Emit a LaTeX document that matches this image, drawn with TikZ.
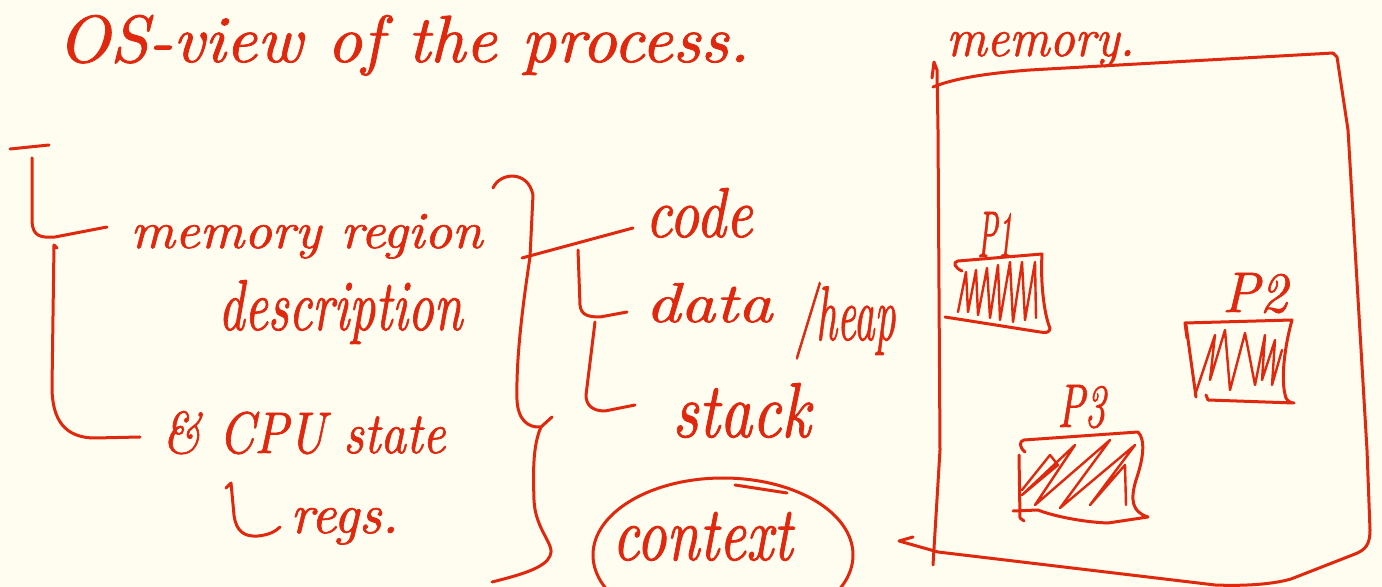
\documentclass[tikz,border=0pt]{standalone}
\usepackage{graphicx}
\usepackage{fontspec}
\newfontfamily\hand{lmroman10-italic.otf}[FakeBold=1.2]
\usetikzlibrary{shapes.geometric}
\definecolor{ink}{HTML}{E0280E}
\definecolor{paper}{HTML}{FFFDF0}
\newcommand{\hw}[3]{\resizebox{#1}{#2}{\hand #3}}
\tikzset{
  pen/.style={draw=ink, line width=1.5pt, line cap=round, line join=round},
  hatch/.style={draw=ink, line width=1.2pt, line cap=round, line join=round},
  lbl/.style={inner sep=0pt, anchor=base west, text=ink},
}
\begin{document}
\begin{tikzpicture}[x=0.5pt,y=-0.5pt]
\useasboundingbox (0,0) rectangle (1382,587);
\fill[paper] (0,0) rectangle (1382,587);
\clip (0,0) rectangle (1382,587);

% texts
\node[lbl] (title) at (57,62) {\hw{346pt}{23.5pt}{OS-view of the process.}};
\node[lbl] (memlbl) at (946,56) {\hw{94pt}{12pt}{memory.}};
\node[lbl] (memreg) at (130,248) {\hw{176pt}{17pt}{memory region}};
\node[lbl] (desc) at (218,330) {\hw{122pt}{25pt}{description}};
\node[lbl] (cpu) at (162,453) {\hw{141.5pt}{21pt}{\& CPU state}};
\node[lbl] (regs) at (290,533) {\hw{54pt}{12.5pt}{regs.}};
\node[lbl] (code) at (645,237) {\hw{53.5pt}{24.5pt}{code}};
\node[lbl] (data) at (645,322) {\hw{63.5pt}{19.5pt}{data}};
\node[lbl] (heap) at (795,340) {\hw{50pt}{29pt}{/heap}};
\node[lbl] (stack) at (672,437) {\hw{69pt}{27pt}{stack}};
\node[lbl] (context) at (612,560) {\hw{90pt}{24pt}{context}};
\node[lbl] (p1) at (977,257) {\hw{17.5pt}{22.5pt}{P1}};
\node[lbl] (p2) at (1222,312) {\hw{32.5pt}{19.5pt}{P2}};
\node[lbl] (p3) at (1057,427) {\hw{24pt}{21pt}{P3}};

% ring round "context"
\node[pen, ellipse, minimum width=130pt, minimum height=77pt, inner sep=0pt] (ring) at (723,555) {};
\draw[pen] (735,485) -- (787,493);

% left tree
\coordinate (root) at (10,149);
\coordinate (b1) at (107,227);
\coordinate (b2) at (140,437);
\draw[pen] (root) -- (49,145);
\draw[pen] (32,158) -- (32,222) .. controls (33,236) and (40,238) .. (55,237) -- (b1);
\draw[pen] (57,248) -- (54,245) -- (52,387) .. controls (52,420) and (65,438) .. (95,438) -- (b2);
\draw[pen] (226,488) -- (231,483) -- (234,515) .. controls (236,532) and (245,537) .. (258,536) .. controls (268,535) and (275,532) .. (280,527);

% big brace
\coordinate (bm) at (522,258);
\draw[pen] (493,188) .. controls (500,172) and (528,170) .. (533,195) -- (530,257) .. controls (522,310) and (516,360) .. (517,400) .. controls (518,420) and (528,428) .. (541,427) -- (552,417);
\draw[pen] (541,427) .. controls (533,445) and (533,470) .. (534,500) .. controls (535,530) and (556,545) .. (550,556) .. controls (545,568) and (520,575) .. (492,582);
\draw[pen] (bm) -- (633,228);

% sub bracket
\draw[pen] (578,250) -- (580,305) .. controls (581,315) and (588,317) .. (600,317) -- (627,312);
\draw[pen] (595,322) -- (586,395) .. controls (586,405) and (592,411) .. (605,411) -- (635,405);

% memory box
\draw[pen] (932,78) -- (934,62) -- (937,70) -- (938,130) -- (940,450) -- (933,565);
\draw[pen] (933,87) .. controls (955,78) and (990,73) .. (1030,70) -- (1333,53);
\draw[pen] (1333,53) -- (1337,57) -- (1348,130) -- (1367,450) -- (1370,530) .. controls (1370,545) and (1365,550) .. (1355,554) -- (1291,579) .. controls (1270,585) and (1240,586) .. (1215,585) -- (938,552) -- (899,541) -- (913,537);

% P1 box
\draw[pen] (962,271) .. controls (955,268) and (952,262) .. (958,261) -- (1042,254) .. controls (1040,290) and (1046,320) .. (1050,328) .. controls (1050,333) and (1045,333) .. (1040,332) -- (945,317);
\draw[hatch] (958,312) -- (966,272) -- (968,312) -- (976,270) -- (978,315) -- (987,268) -- (990,318) -- (998,265) -- (1000,320) -- (1010,262) -- (1013,322) -- (1022,262) -- (1025,320) -- (1035,262) -- (1036,318);

% P2 box
\draw[pen] (1187,338) -- (1185,323) -- (1292,320) .. controls (1285,345) and (1280,380) .. (1286,398) .. controls (1288,402) and (1292,403) .. (1294,403) -- (1208,400) -- (1206,395);
\draw[pen] (1186,325) -- (1196,397);
\draw[hatch] (1195,395) -- (1215,335) -- (1210,380) -- (1225,330) -- (1230,390) -- (1245,333) -- (1255,385) -- (1265,335) -- (1262,380) -- (1275,340) -- (1272,385) -- (1282,350);

% P3 box
\draw[pen] (1025,452) .. controls (1019,447) and (1019,441) .. (1024,440) -- (1138,432) .. controls (1146,440) and (1143,460) .. (1136,480) .. controls (1130,500) and (1132,512) .. (1148,517) -- (1108,523) .. controls (1080,522) and (1050,515) .. (1038,510) -- (1013,511);
\draw[pen] (1019,455) -- (1020,518) -- (1024,521);
\draw[hatch] (1022,490) -- (1050,455) -- (1058,465) -- (1022,495) -- (1075,445) -- (1035,505) -- (1110,440) -- (1060,508) -- (1135,445) -- (1090,505) -- (1125,465) -- (1126,505);
\end{tikzpicture}
\end{document}
